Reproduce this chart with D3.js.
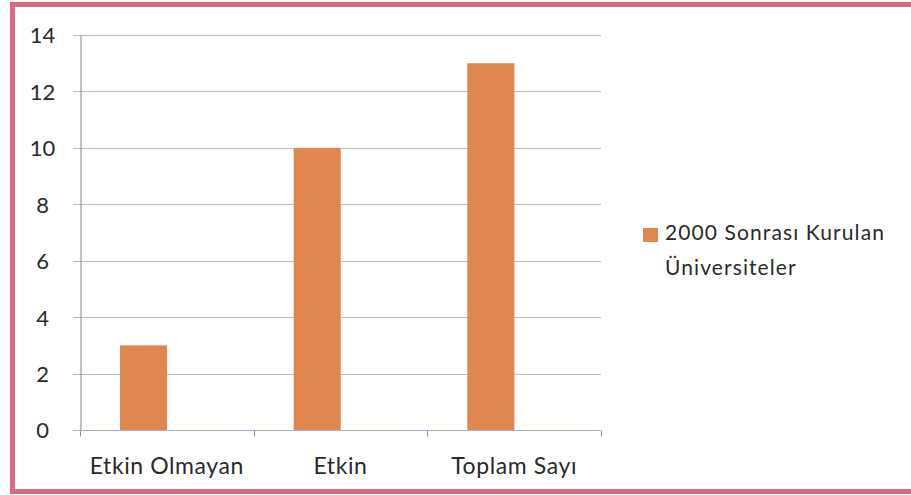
<!DOCTYPE html>
<html>
<head>
<meta charset="utf-8">
<script src="https://cdn.jsdelivr.net/npm/d3@7/dist/d3.min.js"></script>
<style>
  html, body { margin: 0; padding: 0; background: #ffffff; }
  svg { display: block; }
  text { font-family: Lato, "Open Sans", sans-serif; fill: #2a2a2a; }
</style>
</head>
<body>
<svg id="chart" width="911" height="495"></svg>
<script>
// Data: universities founded after 2000
const categories = ["Etkin Olmayan", "Etkin", "Toplam Sayı"];
const values = [3, 10, 13];
const yTicks = [0, 2, 4, 6, 8, 10, 12, 14];
const seriesName = ["2000 Sonrası Kurulan", "Üniversiteler"];

const svg = d3.select("#chart");
const W = 911, H = 495;

// Frame around the chart
svg.append("rect").attr("width", W).attr("height", H).attr("fill", "#ffffff");
svg.append("path")
  .attr("d", `M${W + 5},4.5 H12.5 V491.5 H${W + 5}`)
  .attr("fill", "none")
  .attr("stroke", "#d86c7c")
  .attr("stroke-width", 5);

const plot = { left: 80, right: 601, top: 35, bottom: 430 };

// Category slots; bars sit left of each slot's centre
const x = d3.scaleBand()
  .domain(categories)
  .range([plot.left, plot.right])
  .paddingInner(0.729)
  .paddingOuter(0.3645)
  .align(0.316);

const y = d3.scaleLinear()
  .domain([0, 14])
  .range([plot.bottom, plot.top]);

// Horizontal gridlines
svg.append("g")
  .selectAll("line")
  .data(yTicks)
  .join("line")
  .attr("x1", plot.left - 7)
  .attr("x2", plot.right)
  .attr("y1", d => Math.round(y(d)) + 0.5)
  .attr("y2", d => Math.round(y(d)) + 0.5)
  .attr("stroke", "#b4bcd6")
  .attr("stroke-width", 1.2);

// Y axis
const yAxis = svg.append("g")
  .attr("transform", `translate(${plot.left + 0.5},0)`)
  .call(d3.axisLeft(y).tickValues(yTicks).tickSize(0).tickPadding(38));
yAxis.select(".domain").attr("stroke", "#7f8490");
yAxis.selectAll("text")
  .attr("font-size", 22)
  .attr("text-anchor", "middle")
  .attr("dy", "0.36em");

// Bars
svg.append("g")
  .selectAll("rect")
  .data(values)
  .join("rect")
  .attr("x", (d, i) => x(categories[i]))
  .attr("width", x.bandwidth())
  .attr("y", d => y(d))
  .attr("height", d => y(0) - y(d))
  .attr("fill", "#e0864f");

// X axis with category boundary ticks
const xAxisG = svg.append("g").attr("transform", `translate(0,${Math.round(y(0)) + 0.5})`);
xAxisG.append("line")
  .attr("x1", plot.left).attr("x2", plot.right)
  .attr("stroke", "#a9b0c8").attr("stroke-width", 1.2);
const boundaries = categories.map((c, i) => plot.left + i * (plot.right - plot.left) / categories.length)
  .concat([plot.right]);
xAxisG.selectAll("line.tick")
  .data(boundaries)
  .join("line")
  .attr("class", "tick")
  .attr("x1", d => Math.round(d) + 0.5).attr("x2", d => Math.round(d) + 0.5)
  .attr("y1", 0).attr("y2", 6)
  .attr("stroke", "#8a8f9c");
xAxisG.selectAll("text")
  .data(categories)
  .join("text")
  .attr("x", (d, i) => boundaries[i] + (boundaries[i + 1] - boundaries[i]) / 2)
  .attr("y", 43)
  .attr("text-anchor", "middle")
  .attr("font-size", 23)
  .attr("letter-spacing", 0.6)
  .text(d => d);

// Legend
const legend = svg.append("g").attr("transform", "translate(643,228)");
legend.append("rect")
  .attr("width", 15).attr("height", 14)
  .attr("fill", "#e0864f");
legend.selectAll("text")
  .data(seriesName)
  .join("text")
  .attr("x", 22)
  .attr("y", (d, i) => 12 + i * 35)
  .attr("font-size", 21)
  .attr("letter-spacing", 1.1)
  .text(d => d);
</script>
</body>
</html>
